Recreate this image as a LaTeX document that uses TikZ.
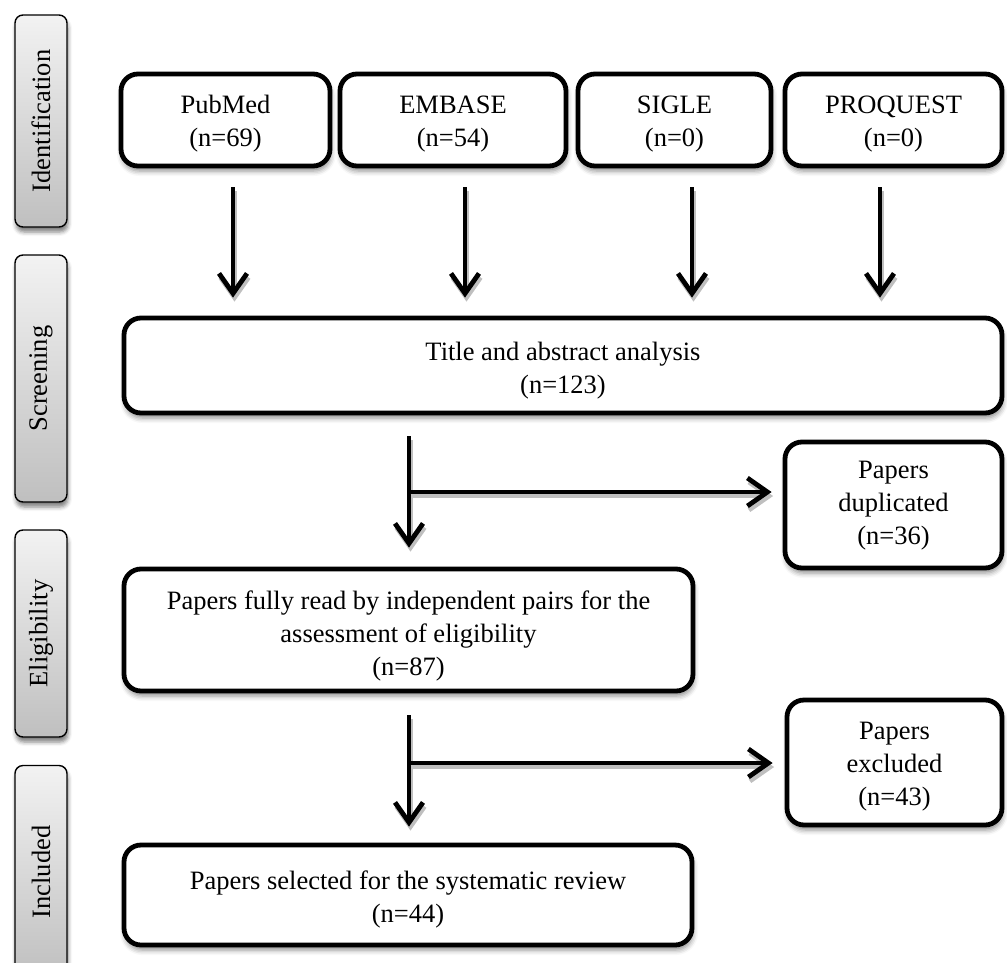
\documentclass[tikz,border=0pt]{standalone}
\usepackage{fontspec}
\setmainfont{Liberation Serif}
\usetikzlibrary{arrows.meta,shadows,shadows.blur}
\begin{document}
\begin{tikzpicture}[x=1pt,y=-1pt,
  box/.style={draw=black, line width=4.8pt, rounded corners=17pt, fill=white,
    inner sep=0pt,
    blur shadow={shadow xshift=1pt, shadow yshift=-5pt, shadow blur radius=5pt, shadow opacity=45}},
  txt/.style={align=center, inner sep=0pt, font=\fontsize{26.5}{33}\selectfont},
  side/.style={draw=black, line width=1.4pt, rounded corners=8pt, rotate=90,
    top color=black!5, bottom color=black!25,
    inner sep=0pt, font=\fontsize{26.5}{33}\selectfont, minimum height=52pt,
    blur shadow={shadow xshift=1pt, shadow yshift=-5pt, shadow blur radius=4pt, shadow opacity=50}},
  arr/.style={line width=4.8pt, -{Straight Barb[length=20pt,width=28pt,line width=4.8pt]},
    preaction={draw=black!25, line width=4.8pt, -{Straight Barb[length=20pt,width=28pt,line width=4.8pt]}, transform canvas={xshift=1.5pt,yshift=-4pt}}}
]
\useasboundingbox (0,0) rectangle (1007,962);

% side labels
\node[side, minimum width=212pt] (sid) at (41,121) {Identification};
\node[side, minimum width=247pt] (ssc) at (41,378.5) {Screening};
\node[side, minimum width=207pt] (sel) at (41,633.5) {Eligibility};
\node[side, minimum width=213pt] (sin) at (41,872) {Included};

% boxes
\node[box, minimum width=209pt, minimum height=92pt] (pub) at (225.5,120) {};
\node[box, minimum width=226pt, minimum height=92pt] (emb) at (453,120) {};
\node[box, minimum width=193pt, minimum height=92pt] (sig) at (674.5,120) {};
\node[box, minimum width=217pt, minimum height=92pt] (pro) at (893.5,120) {};
\node[box, minimum width=878pt, minimum height=95pt] (tit) at (563,365.5) {};
\node[box, minimum width=217pt, minimum height=126pt] (dup) at (893.5,505) {};
\node[box, minimum width=569pt, minimum height=122pt] (eli) at (408.5,630) {};
\node[box, minimum width=215pt, minimum height=125pt] (exc) at (894.5,762.5) {};
\node[box, minimum width=568pt, minimum height=100pt] (inc) at (408,895) {};

% box texts
\node[txt] (pubt) at ([yshift=-4pt]pub.center) {PubMed\\(n=69)};
\node[txt] (embt) at ([yshift=-4pt]emb.center) {EMBASE\\(n=54)};
\node[txt] (sigt) at ([yshift=-4pt]sig.center) {SIGLE\\(n=0)};
\node[txt] (prot) at ([yshift=-4pt]pro.center) {PROQUEST\\(n=0)};
\node[txt] (titt) at ([yshift=-5pt]tit.center) {Title and abstract analysis\\(n=123)};
\node[txt] (dupt) at ([yshift=-1pt]dup.center) {Papers\\duplicated\\(n=36)};
\node[txt] (elit) at ([yshift=-6pt]eli.center) {Papers fully read by independent pairs for the\\assessment of eligibility\\(n=87)};
\node[txt] (exct) at ([yshift=-4pt]exc.center) {Papers\\excluded\\(n=43)};
\node[txt] (inct) at ([yshift=-4pt]inc.center) {Papers selected for the systematic review\\(n=44)};

% arrow x positions
\coordinate (c1) at (233,0);
\coordinate (c2) at (465,0);
\coordinate (c3) at (692,0);
\coordinate (c4) at (880,0);
\coordinate (c5) at (409,0);
\coordinate (j1) at (409,492);
\coordinate (j2) at (409,763);

\draw[arr, shorten <=19pt, shorten >=18pt] (c1 |- pub.south) -- (c1 |- tit.north);
\draw[arr, shorten <=19pt, shorten >=18pt] (c2 |- emb.south) -- (c2 |- tit.north);
\draw[arr, shorten <=19pt, shorten >=18pt] (c3 |- sig.south) -- (c3 |- tit.north);
\draw[arr, shorten <=19pt, shorten >=18pt] (c4 |- pro.south) -- (c4 |- tit.north);

\draw[arr, shorten <=21pt, shorten >=19pt] (c5 |- tit.south) -- (c5 |- eli.north);
\draw[arr, shorten >=11pt] (j1) -- (j1 -| dup.west);

\draw[arr, shorten <=22pt, shorten >=16pt] (c5 |- eli.south) -- (c5 |- inc.north);
\draw[arr, shorten >=12pt] (j2) -- (j2 -| exc.west);
\end{tikzpicture}
\end{document}
